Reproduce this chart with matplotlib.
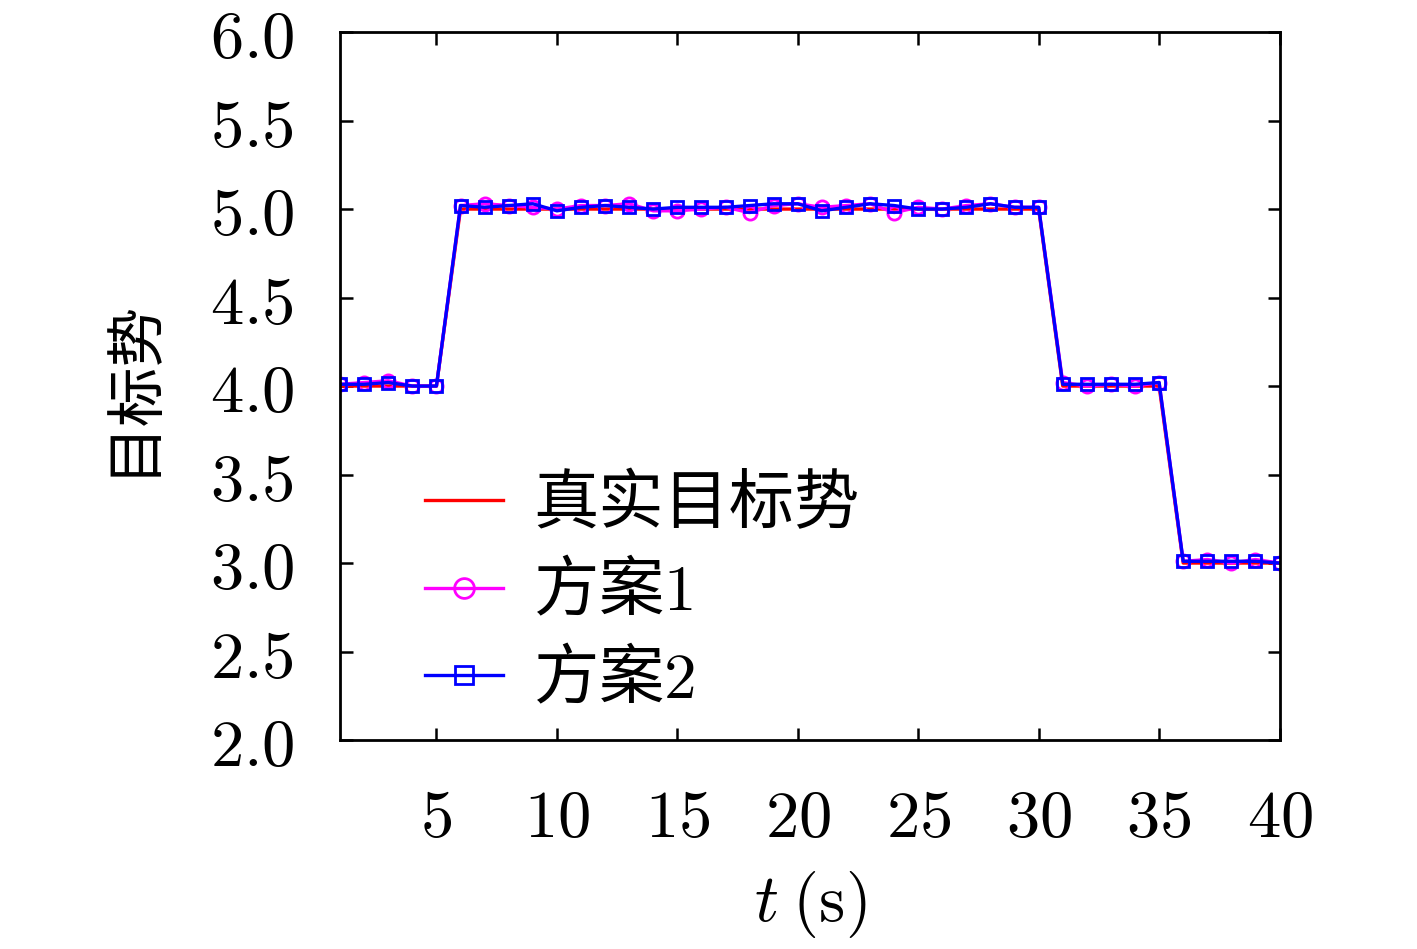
import matplotlib.pyplot as plt
import numpy as np

plt.rcParams['font.family'] = ['Noto Sans CJK SC', 'DejaVu Sans']
plt.rcParams['mathtext.fontset'] = 'cm'

t = np.arange(1, 41)
true_target = [4, 4, 4, 4, 4] + [5] * 25 + [4] * 5 + [3] * 5
scheme1 = [4.01, 4.02, 4.03, 4.00, 4.00,
           5.02, 5.03, 5.02, 5.01, 5.00, 5.02, 5.02, 5.03, 4.99, 4.99,
           5.00, 5.01, 4.98, 5.02, 5.03, 5.01, 5.02, 5.03, 4.98, 5.01,
           5.00, 5.02, 5.03, 5.01, 5.01,
           4.02, 4.00, 4.01, 4.00, 4.02,
           3.01, 3.02, 3.00, 3.02, 3.00]
scheme2 = [4.01, 4.01, 4.02, 4.00, 4.00,
           5.02, 5.01, 5.02, 5.03, 4.99, 5.01, 5.02, 5.01, 5.00, 5.01,
           5.01, 5.01, 5.02, 5.03, 5.03, 4.99, 5.01, 5.03, 5.02, 5.00,
           5.00, 5.01, 5.03, 5.01, 5.01,
           4.01, 4.01, 4.01, 4.01, 4.02,
           3.01, 3.01, 3.01, 3.01, 3.00]

x_ticks = [5, 10, 15, 20, 25, 30, 35, 40]
y_ticks = [2.0, 2.5, 3.0, 3.5, 4.0, 4.5, 5.0, 5.5, 6.0]

fig = plt.figure(figsize=(14.17, 9.49), dpi=100)
ax = fig.add_axes([0.24, 0.2202, 0.663, 0.746])

ax.plot(t, true_target, color='red', lw=2.4, label='真实目标势')
ax.plot(t, scheme1, color='magenta', lw=2.4, marker='o', ms=9.5,
        mfc='none', mew=2, label='方案$1$')
ax.plot(t, scheme2, color='blue', lw=2.4, marker='s', ms=8.5,
        mfc='none', mew=2, label='方案$2$')

ax.set_xlim(1, 40)
ax.set_ylim(2, 6)
ax.set_xticks(x_ticks)
ax.set_xticklabels([f'${v}$' for v in x_ticks])
ax.set_yticks(y_ticks)
ax.set_yticklabels([f'${v:.1f}$' for v in y_ticks])
ax.tick_params(direction='in', length=9, width=1.8, top=True, right=True,
               labelsize=48)
ax.tick_params(axis='x', pad=32)
ax.tick_params(axis='y', pad=33)
for lbl in ax.get_yticklabels():
    lbl.set_verticalalignment('center_baseline')
for s in ax.spines.values():
    s.set_linewidth(2)

ax.set_xlabel('$t$ $\\mathrm{(s)}$', fontsize=48, labelpad=12)
ax.set_ylabel('目标势', fontsize=43, labelpad=34)

ax.legend(loc='upper left', bbox_to_anchor=(0.028, 0.462), frameon=False,
          fontsize=47, handlelength=1.2, handletextpad=0.45,
          labelspacing=0.32, markerscale=1.5)

fig.savefig('out.png', dpi=100)
